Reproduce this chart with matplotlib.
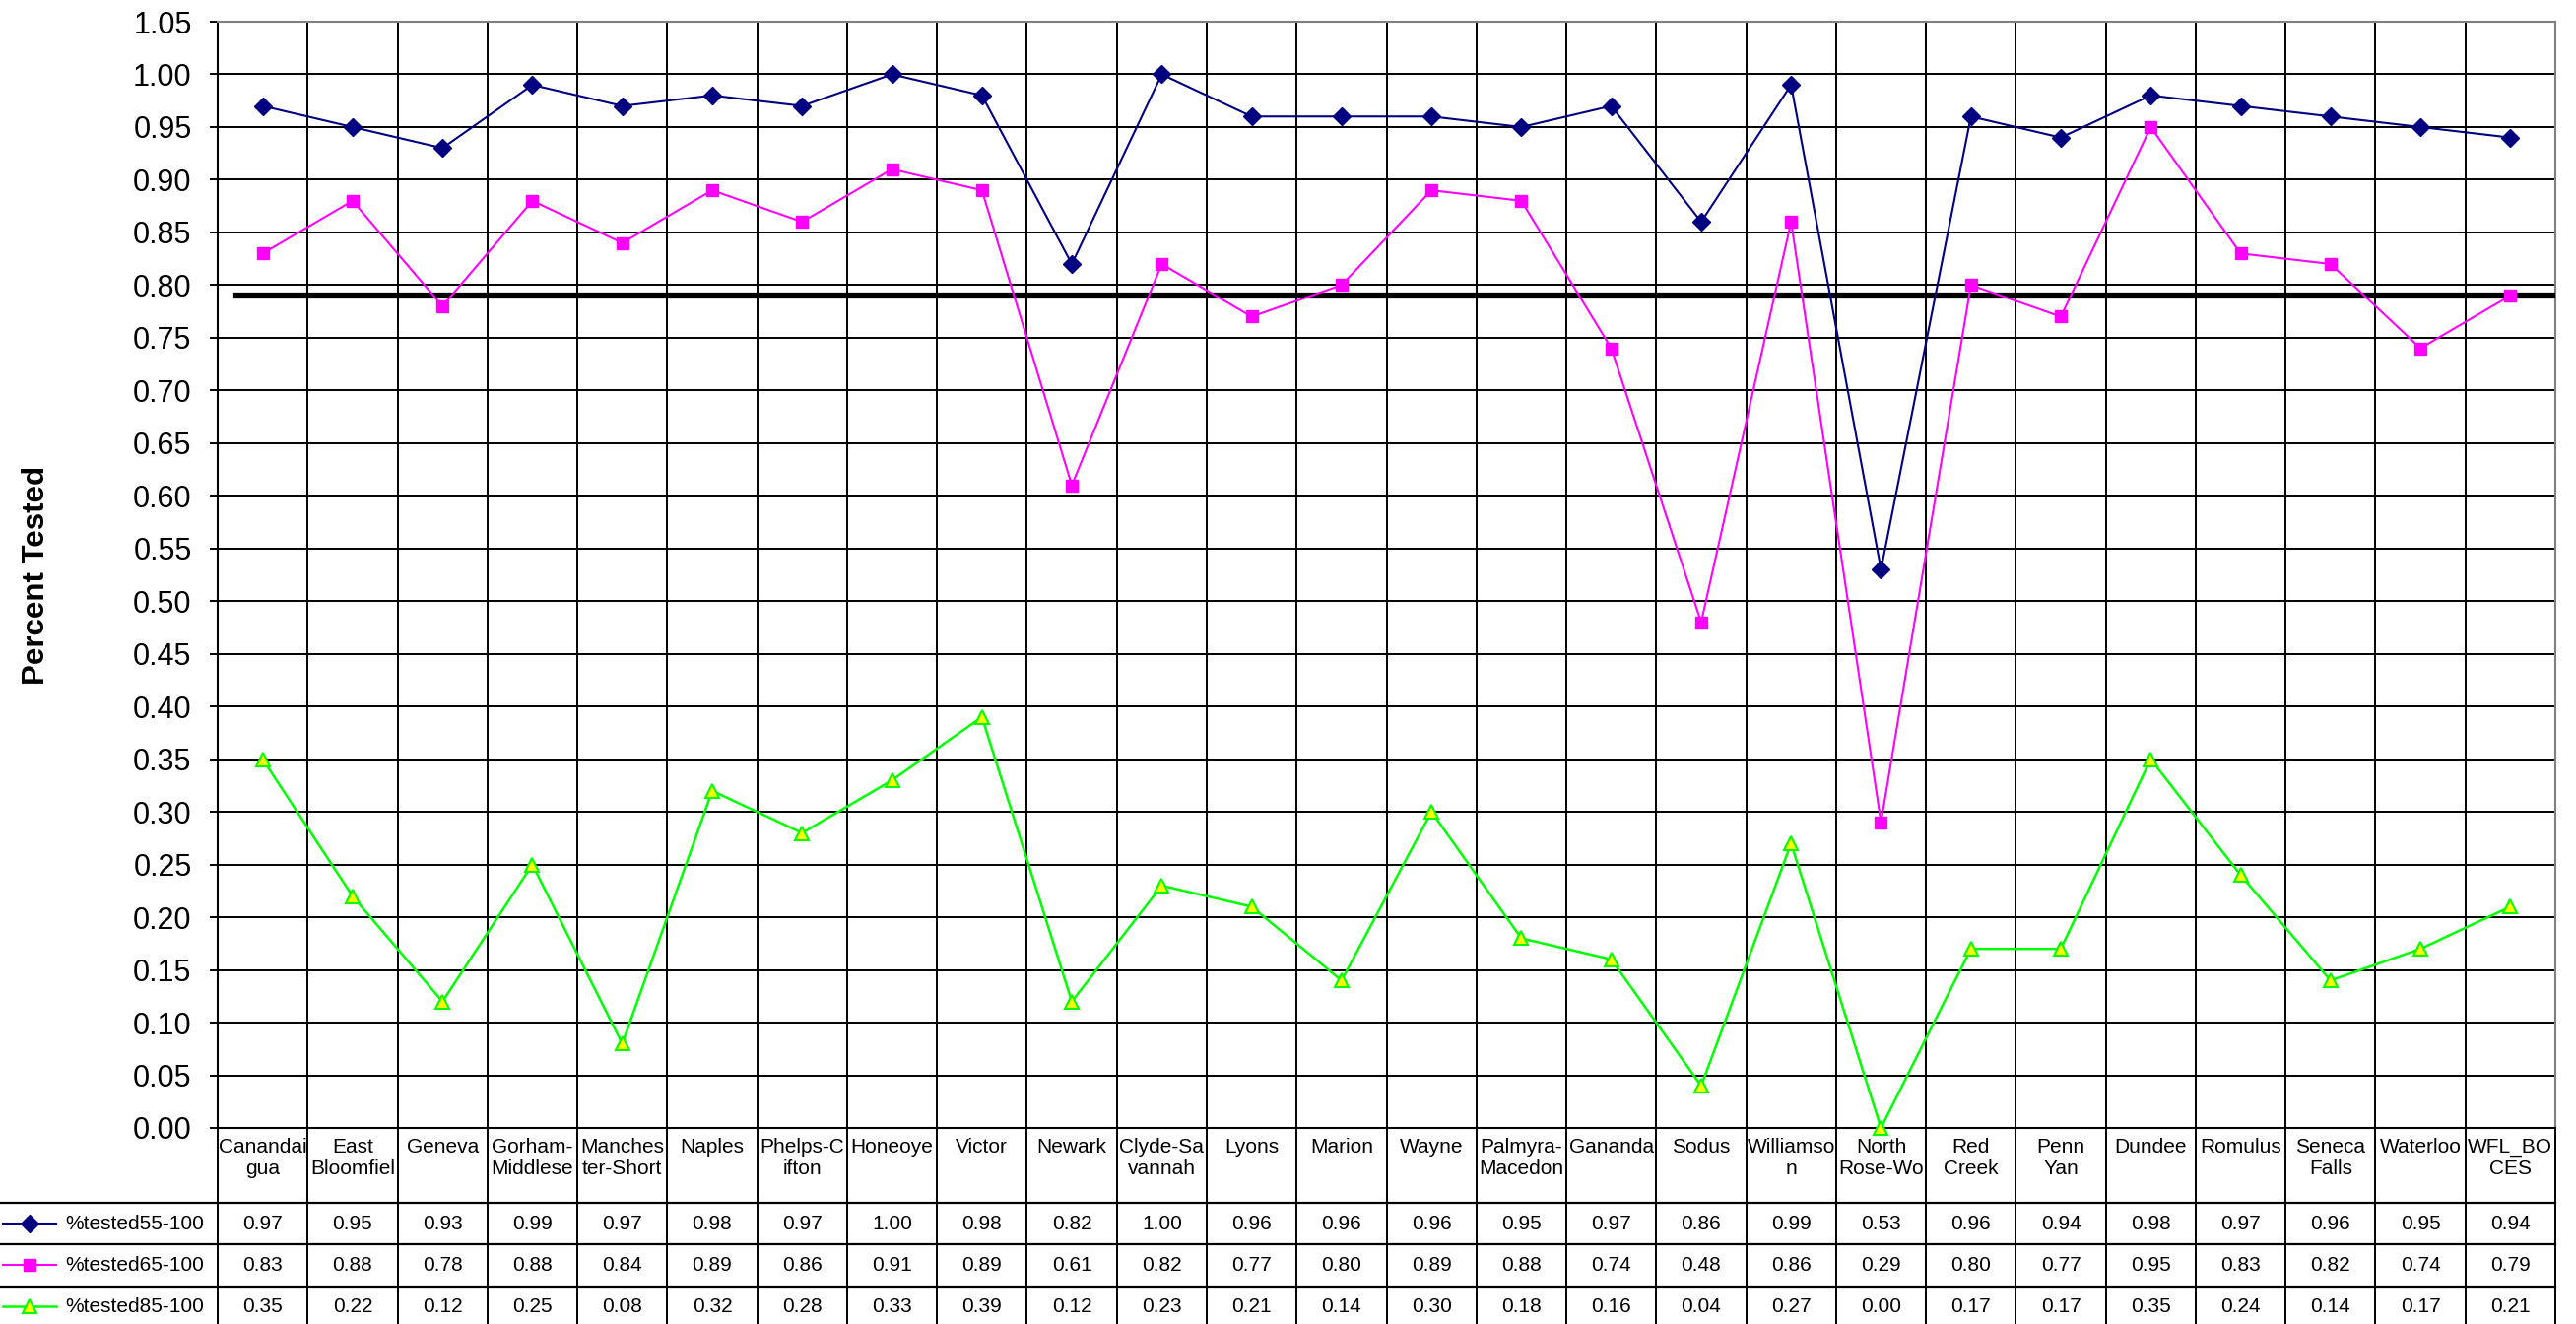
import numpy as np
import matplotlib
matplotlib.use("Agg")
import matplotlib.pyplot as plt
from matplotlib.transforms import blended_transform_factory
from matplotlib.lines import Line2D

# Districts (labels wrapped the way the source table wraps them)
districts = ["Canandai\ngua", "East\nBloomfiel", "Geneva", "Gorham-\nMiddlese", "Manches\nter-Short",
             "Naples", "Phelps-C\nifton", "Honeoye", "Victor", "Newark", "Clyde-Sa\nvannah", "Lyons",
             "Marion", "Wayne", "Palmyra-\nMacedon", "Gananda", "Sodus", "Williamso\nn", "North\nRose-Wo",
             "Red\nCreek", "Penn\nYan", "Dundee", "Romulus", "Seneca\nFalls", "Waterloo", "WFL_BO\nCES"]

tested55 = [0.97, 0.95, 0.93, 0.99, 0.97, 0.98, 0.97, 1.00, 0.98, 0.82, 1.00, 0.96, 0.96,
            0.96, 0.95, 0.97, 0.86, 0.99, 0.53, 0.96, 0.94, 0.98, 0.97, 0.96, 0.95, 0.94]
tested65 = [0.83, 0.88, 0.78, 0.88, 0.84, 0.89, 0.86, 0.91, 0.89, 0.61, 0.82, 0.77, 0.80,
            0.89, 0.88, 0.74, 0.48, 0.86, 0.29, 0.80, 0.77, 0.95, 0.83, 0.82, 0.74, 0.79]
tested85 = [0.35, 0.22, 0.12, 0.25, 0.08, 0.32, 0.28, 0.33, 0.39, 0.12, 0.23, 0.21, 0.14,
            0.30, 0.18, 0.16, 0.04, 0.27, 0.00, 0.17, 0.17, 0.35, 0.24, 0.14, 0.17, 0.21]

series_names = ["%tested55-100", "%tested65-100", "%tested85-100"]
target = 0.79
yticks = np.arange(0, 1.0501, 0.05)

W, H = 2615, 1344
fig = plt.figure(figsize=(W / 100, H / 100), dpi=100)
plt.rcParams['font.family'] = ['Liberation Sans', 'DejaVu Sans']

# plot area in pixels
left, right, top, bottom = 221, 2594, 22, 1145
ax = fig.add_axes([left / W, 1 - bottom / H, (right - left) / W, (bottom - top) / H])

n = len(districts)
x = np.arange(n)
ax.set_xlim(-0.5, n - 0.5)
ax.set_ylim(0, 1.05)

# grid
for yv in yticks[:-1]:
    ax.axhline(yv, color="black", lw=1.4, zorder=1)
for b in np.arange(n) - 0.5:
    ax.axvline(b, color="black", lw=1.4, zorder=1)

styles = [
    dict(color="#000080", marker="D", ms=9, mfc="#000080", mec="#000080", lw=1.5),
    dict(color="#FF00FF", marker="s", ms=8.5, mfc="#FF00FF", mec="#FF00FF", lw=1.5),
    dict(color="#00FF00", marker="^", ms=10, mfc="#FFFF00", mec="#00FF00", mew=1.5, lw=1.8),
]
allvals = [tested55, tested65, tested85]
for vals, st in zip(allvals, styles):
    ax.plot(x, vals, zorder=4, clip_on=False, **st)

ax.axhline(target, xmin=0.008, xmax=1, color="black", lw=4.5, zorder=3)

ax.set_yticks(yticks)
ax.set_yticklabels(["%.2f" % v for v in yticks], fontsize=22)
ax.set_xticks([])
ax.tick_params(axis="y", length=6, width=1.4, pad=13)
for s in ax.spines.values():
    s.set_linewidth(1.5)
ax.spines["top"].set_color("#808080")
ax.spines["right"].set_color("#808080")

fig.text(37 / W, 1 - ((top + bottom) / 2) / H, "Percent Tested", rotation=90,
         ha="center", va="center", fontsize=22.5, fontweight="bold")

# data table under the plot
tr = blended_transform_factory(ax.transData, fig.transFigure)
px = lambda p: 1 - p / H
cat_w = (right - left) / n
xl = -0.5 - left / cat_w  # figure left edge in data units

row_lines = [1221, 1263, 1306]
for r in row_lines:
    fig.add_artist(Line2D([xl, n - 0.5], [px(r), px(r)], transform=tr, color="black", lw=1.6))
for b in np.arange(n + 1) - 0.5:
    fig.add_artist(Line2D([b, b], [px(bottom), px(1344)], transform=tr, color="black", lw=1.4))

for i, lab in enumerate(districts):
    fig.text(i, px(1155), lab, transform=tr, ha="center", va="top", fontsize=15,
             linespacing=1.2)

row_mid = [1242, 1284, 1326]
for k, (vals, st) in enumerate(zip(allvals, styles)):
    y = px(row_mid[k])
    for i, v in enumerate(vals):
        fig.text(i, y, "%.2f" % v, transform=tr, ha="center", va="center", fontsize=15)
    fig.add_artist(Line2D([3 / W, 57 / W], [y, y], transform=fig.transFigure,
                          color=st["color"], lw=st["lw"]))
    fig.add_artist(Line2D([30 / W], [y], transform=fig.transFigure, color=st["color"], lw=0,
                          marker=st["marker"], ms=st["ms"], mfc=st["mfc"], mec=st["mec"],
                          mew=st.get("mew", 1)))
    fig.text(66 / W, y, series_names[k], ha="left", va="center", fontsize=15)

fig.savefig("out.png", dpi=100)
